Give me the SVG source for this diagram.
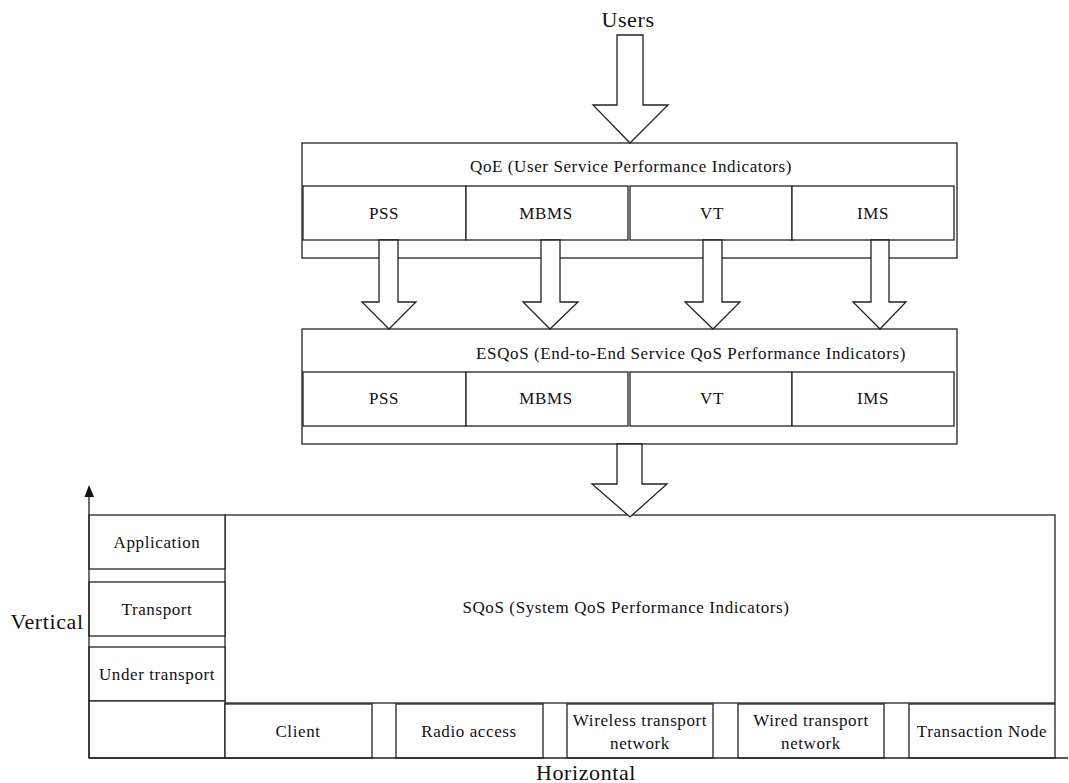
<svg xmlns="http://www.w3.org/2000/svg" width="1069" height="783" viewBox="0 0 1069 783">
<style>
.b{fill:#fff;stroke:#222;stroke-width:1.3}
.a{fill:#fff;stroke:#222;stroke-width:1.3;stroke-linejoin:miter}
.l{fill:none;stroke:#222;stroke-width:1.3}
text{font-family:"Liberation Serif","Times New Roman",serif;fill:#111;text-anchor:middle}
.t{font-size:17px;letter-spacing:0.6px}
.big{font-size:22px;letter-spacing:0.6px}
</style>
<rect width="1069" height="783" fill="#fff"/>

<g id="qoe">
<rect class="b" x="302" y="143" width="655" height="115"/>
<text class="t" x="631" y="172">QoE (User Service Performance Indicators)</text>
<rect class="b" x="303" y="186" width="163" height="54"/>
<text class="t" x="384" y="219">PSS</text>
<rect class="b" x="466" y="186" width="162" height="54"/>
<text class="t" x="546" y="219">MBMS</text>
<rect class="b" x="630" y="186" width="162" height="54"/>
<text class="t" x="712" y="219">VT</text>
<rect class="b" x="792" y="186" width="162" height="54"/>
<text class="t" x="873" y="219">IMS</text>
</g>

<g id="esqos">
<rect class="b" x="302" y="329" width="655" height="115"/>
<text class="t" x="691" y="359">ESQoS (End-to-End Service QoS Performance Indicators)</text>
<rect class="b" x="303" y="372" width="163" height="54"/>
<text class="t" x="384" y="404">PSS</text>
<rect class="b" x="466" y="372" width="162" height="54"/>
<text class="t" x="546" y="404">MBMS</text>
<rect class="b" x="630" y="372" width="162" height="54"/>
<text class="t" x="712" y="404">VT</text>
<rect class="b" x="792" y="372" width="162" height="54"/>
<text class="t" x="873" y="404">IMS</text>
</g>

<g id="sqos">
<rect class="b" x="225" y="515" width="830" height="188"/>
<text class="t" x="626" y="613">SQoS (System QoS Performance Indicators)</text>
</g>

<g id="layers">
<rect class="b" x="89" y="515" width="136" height="54"/>
<text class="t" x="157" y="548">Application</text>
<rect class="b" x="89" y="582" width="136" height="54"/>
<text class="t" x="157" y="615">Transport</text>
<rect class="b" x="89" y="647" width="136" height="54"/>
<text class="t" x="157" y="680">Under transport</text>
<rect class="b" x="89" y="701" width="136" height="57"/>
</g>

<g id="segments">
<rect class="b" x="225" y="704" width="147" height="54"/>
<text class="t" x="298" y="737">Client</text>
<rect class="b" x="396" y="704" width="147" height="54"/>
<text class="t" x="469" y="737">Radio access</text>
<rect class="b" x="567" y="704" width="146" height="54"/>
<text class="t" x="640" y="726">Wireless transport</text>
<text class="t" x="640" y="749">network</text>
<rect class="b" x="738" y="704" width="146" height="54"/>
<text class="t" x="811" y="726">Wired transport</text>
<text class="t" x="811" y="749">network</text>
<rect class="b" x="909" y="704" width="146" height="54"/>
<text class="t" x="982" y="737">Transaction Node</text>
</g>

<g id="labels">
<text class="big" x="628" y="27">Users</text>
<text class="big" x="47" y="629">Vertical</text>
<text class="big" x="586" y="780">Horizontal</text>
</g>

<g id="connectors">
<path class="a" d="M617,35 H643 V105 H668 L630,143 L593,105 H617 Z"/>
<path class="a" d="M379,240 H398 V302 H416 L389,329 L362,302 H379 Z"/>
<path class="a" d="M541,240 H560 V302 H578 L550,329 L523,302 H541 Z"/>
<path class="a" d="M703,240 H722 V302 H740 L713,329 L685,302 H703 Z"/>
<path class="a" d="M871,240 H889 V302 H906 L880,329 L853,302 H871 Z"/>
<path class="a" d="M617,444 H642 V484 H667 L630,517 L592,484 H617 Z"/>
<line class="l" x1="89" y1="758" x2="89" y2="494"/>
<path d="M89,485 L94,497 L84.5,497 Z" fill="#111"/>
<line class="l" x1="89" y1="758" x2="1068" y2="758"/>
</g>
</svg>
